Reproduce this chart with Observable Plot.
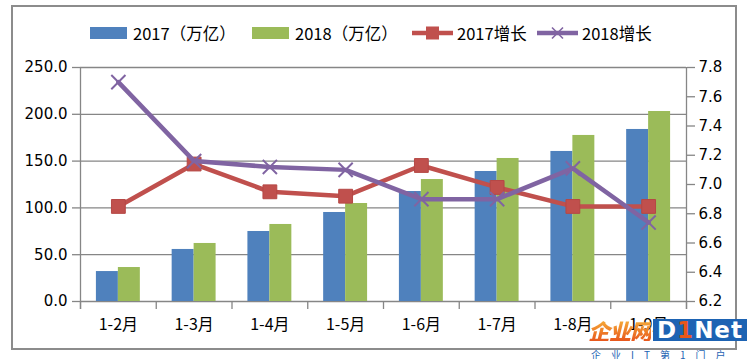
<!DOCTYPE html>
<html>
<head>
<meta charset="utf-8">
<script src="https://cdn.jsdelivr.net/npm/d3@7"></script>
<script src="https://cdn.jsdelivr.net/npm/@observablehq/plot@0.6"></script>
<style>
  html, body { margin: 0; padding: 0; background: #fff; }
  #wrap { position: relative; width: 747px; height: 359px; overflow: hidden; }
  #frame { position: absolute; left: 11px; top: 5px; width: 726px; height: 345px; border: 2px solid #8c8c8c; box-sizing: border-box; pointer-events: none; }
  #legend { position: relative; height: 55px; font-family: "Noto Sans CJK SC", sans-serif; font-size: 16.5px; color: #000; }
  .li { position: absolute; top: 22px; display: flex; align-items: center; height: 22px; white-space: nowrap; }
  .sw { display: inline-block; width: 37px; height: 12px; margin-right: 6px; }
  .lsvg { margin-right: 4px; }
  #wm { position: absolute; left: 588px; top: 319px; width: 170px; white-space: nowrap; pointer-events: none; }
</style>
</head>
<body>
<div id="wrap">
  <div id="legend"></div>
  <div id="chart"></div>
  <div id="frame"></div>
  <div id="wm"></div>
</div>
<script>
// ---- data ----
const categories = ["1-2月", "1-3月", "1-4月", "1-5月", "1-6月", "1-7月", "1-8月", "1-9月"];
const rev2017 = [32.0, 55.6, 74.8, 95.1, 117.5, 138.9, 160.3, 183.8];
const rev2018 = [36.3, 62.0, 82.3, 104.7, 130.3, 152.8, 177.4, 203.0];
const growth2017 = [6.85, 7.14, 6.95, 6.92, 7.13, 6.98, 6.85, 6.85];
const growth2018 = [7.70, 7.16, 7.12, 7.10, 6.90, 6.90, 7.11, 6.74];
const leftTicks = [0, 50, 100, 150, 200, 250];
const rightTicks = [6.2, 6.4, 6.6, 6.8, 7.0, 7.2, 7.4, 7.6, 7.8];
const seriesNames = ["2017（万亿）", "2018（万亿）", "2017增长", "2018增长"];
const colors = ["#4F81BD", "#9BBB59", "#C0504D", "#8064A2"];

// ---- helpers ----
const leftMax = 250;
const rMin = rightTicks[0], rMax = rightTicks[rightTicks.length - 1];
const toLeft = v => (v - rMin) / (rMax - rMin) * leftMax;
const fromLeft = d => rMin + d / leftMax * (rMax - rMin);
const barW = 0.29;

const bars = [];
categories.forEach((c, i) => {
  bars.push({i: i + 1, s: 0, v: rev2017[i], x1: i + 1 - barW, x2: i + 1});
  bars.push({i: i + 1, s: 1, v: rev2018[i], x1: i + 1, x2: i + 1 + barW});
});
const g17 = growth2017.map((v, i) => ({i: i + 1, y: toLeft(v)}));
const g18 = growth2018.map((v, i) => ({i: i + 1, y: toLeft(v)}));

const gridColor = "#868686";
const n = categories.length;

const chart = Plot.plot({
  width: 747,
  height: 304,
  marginTop: 12,
  marginBottom: 58,
  marginLeft: 80,
  marginRight: 61,
  style: {fontFamily: "DejaVu Sans, sans-serif", fontSize: "15px", color: "#000", background: "transparent"},
  x: {type: "linear", domain: [0.5, n + 0.5], axis: null},
  y: {domain: [0, leftMax], axis: null},
  marks: [
    Plot.ruleY(leftTicks, {y: d => d, x1: 0.5, x2: n + 0.5, stroke: gridColor, strokeWidth: 1.3}),
    Plot.rectY(bars, {x1: "x1", x2: "x2", y: "v", fill: d => colors[d.s]}),
    Plot.ruleX([0.5, n + 0.5], {stroke: gridColor, strokeWidth: 1.3, insetBottom: -8}),
    Plot.axisX(d3.range(0.5, n + 1, 1), {tickSize: 8, tickFormat: () => "", stroke: gridColor, strokeWidth: 1.3}),
    Plot.axisX(d3.range(1, n + 1), {tickSize: 0, tickPadding: 17, tickFormat: d => categories[d - 1], fontFamily: "Noto Sans CJK SC, sans-serif", fontSize: 16, fill: "#000"}),
    Plot.axisY(leftTicks, {anchor: "left", tickSize: 8, tickPadding: 5, tickFormat: d => d.toFixed(1), stroke: gridColor, strokeWidth: 1.3, fill: "#000"}),
    Plot.axisY(rightTicks.map(toLeft), {anchor: "right", tickSize: 8, tickPadding: 4, tickFormat: d => fromLeft(d).toFixed(1), stroke: gridColor, strokeWidth: 1.3, fill: "#000"}),
    Plot.line(g17, {x: "i", y: "y", stroke: colors[2], strokeWidth: 4.5}),
    Plot.dot(g17, {x: "i", y: "y", symbol: "square", r: 7.8, fill: colors[2], stroke: "#b54845", strokeWidth: 1}),
    Plot.line(g18, {x: "i", y: "y", stroke: colors[3], strokeWidth: 4.5}),
    Plot.dot(g18, {x: "i", y: "y", symbol: "times", r: 6.5, stroke: colors[3], strokeWidth: 2})
  ]
});
document.getElementById("chart").appendChild(chart);

// ---- legend ----
const legend = document.getElementById("legend");
const lx = [90, 252, 412, 537];
seriesNames.forEach((name, k) => {
  const item = document.createElement("div");
  item.className = "li";
  item.style.left = lx[k] + "px";
  if (k < 2) {
    const sw = document.createElement("span");
    sw.className = "sw";
    sw.style.background = colors[k];
    item.appendChild(sw);
  } else {
    const ns = "http://www.w3.org/2000/svg";
    const s = document.createElementNS(ns, "svg");
    s.setAttribute("width", 41); s.setAttribute("height", 16); s.setAttribute("class", "lsvg");
    const l = document.createElementNS(ns, "line");
    l.setAttribute("x1", 0); l.setAttribute("x2", 41); l.setAttribute("y1", 8); l.setAttribute("y2", 8);
    l.setAttribute("stroke", colors[k]); l.setAttribute("stroke-width", 4.5);
    s.appendChild(l);
    if (k === 2) {
      const r = document.createElementNS(ns, "rect");
      r.setAttribute("x", 14); r.setAttribute("y", 1.5); r.setAttribute("width", 13); r.setAttribute("height", 13);
      r.setAttribute("fill", colors[k]);
      s.appendChild(r);
    } else {
      const p = document.createElementNS(ns, "path");
      p.setAttribute("d", "M15,2.5L26,13.5M26,2.5L15,13.5");
      p.setAttribute("stroke", colors[k]); p.setAttribute("stroke-width", 1.6);
      s.appendChild(p);
    }
    item.appendChild(s);
  }
  const t = document.createElement("span");
  t.textContent = name;
  item.appendChild(t);
  legend.appendChild(item);
});

// ---- watermark ----
document.getElementById("wm").innerHTML =
  '<div style="display:flex;align-items:center;height:22px;white-space:nowrap">' +
  '<span style="flex:none;font-family:Noto Sans CJK SC;font-weight:900;font-style:italic;font-size:22px;line-height:22px;background:linear-gradient(#F6B13A,#E8571C);-webkit-background-clip:text;background-clip:text;color:transparent;letter-spacing:-1px">企业网</span>' +
  '<span style="flex:none;display:inline-block;background:#1D63B3;height:22px;line-height:22px;padding:0 8px 0 4px;margin-left:2px;font-family:DejaVu Sans;font-weight:bold;font-size:23px;color:#fff;letter-spacing:1px">D<span style="color:#E8571C">1</span>Net</span></div>' +
  '<div style="font-family:Noto Sans CJK SC;font-size:10px;line-height:12px;color:#1D63B3;letter-spacing:10px;margin-top:8px;margin-left:3px;white-space:nowrap">企业IT第1门户</div>';
</script>
</body>
</html>
